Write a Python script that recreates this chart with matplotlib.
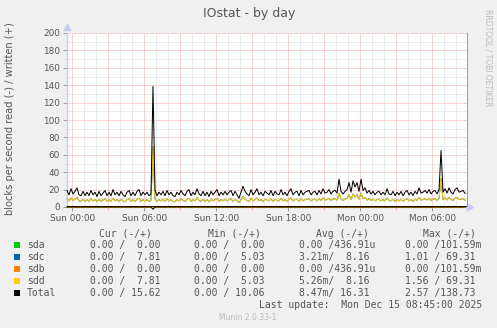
import numpy as np
import matplotlib
matplotlib.use("Agg")
import matplotlib.pyplot as plt
from matplotlib.patches import Rectangle
from matplotlib.ticker import MultipleLocator, FixedLocator

W, H = 497, 328

# ---------------- data ----------------
series_names = ["sda", "sdc", "sdb", "sdd", "Total"]
series_colors = ["#00CC00", "#0066B3", "#FF8000", "#FFCC00", "#000000"]

t_start = -0.44        # hours relative to Sun 00:00
t_step = 1.0 / 6.0     # 10-minute samples

sdd_written = [
    9.5, 7.0, 10.5, 7.5, 9.0, 11.0, 7.0, 6.5, 9.0, 6.5, 8.5, 6.5, 9.5, 7.0, 8.5, 6.0, 9.0, 6.5, 8.0, 9.5,
    6.5, 8.5, 6.5, 10.0, 7.0, 8.5, 6.5, 9.0, 7.0, 6.0, 8.5, 9.5, 6.5, 8.5, 6.5, 9.0, 10.0, 6.5, 8.5, 7.0,
    8.5, 6.5, 7.5, 69.31, 9.5, 6.5, 8.5, 7.0, 9.0, 6.5, 9.5, 7.0, 8.5, 6.5, 6.0, 8.5, 7.0, 9.5, 7.5, 6.5,
    9.0, 10.0, 6.5, 8.5, 7.0, 10.5, 7.5, 6.5, 9.0, 6.5, 8.5, 6.0, 9.0, 7.0, 8.5, 10.0, 6.5, 8.5, 7.0, 9.0,
    7.0, 8.5, 9.5, 6.5, 9.0, 7.0, 5.03, 8.5, 12.0, 9.0, 7.5, 6.5, 10.0, 7.0, 8.5, 10.5, 7.0, 8.5, 6.5, 9.0,
    8.0, 7.0, 9.5, 6.5, 9.0, 7.5, 7.0, 10.0, 7.0, 8.5, 6.5, 9.0, 10.5, 7.0, 8.5, 9.0, 6.5, 9.5, 7.0, 8.5,
    9.0, 9.5, 7.0, 8.5, 9.0, 7.0, 9.5, 7.5, 10.5, 8.0, 8.5, 10.0, 7.5, 9.0, 9.5, 8.0, 16.0, 9.0, 7.5, 9.0,
    10.0, 14.0, 8.5, 15.0, 11.5, 14.0, 9.0, 16.0, 9.5, 11.0, 8.0, 9.5, 7.5, 9.0, 7.0, 8.5, 9.0, 7.0, 8.5, 7.0,
    10.5, 7.5, 7.0, 9.0, 6.5, 8.5, 7.0, 9.0, 6.5, 8.5, 9.5, 7.0, 8.5, 6.5, 9.0, 7.5, 11.0, 8.0, 8.5, 9.5,
    8.0, 10.0, 7.5, 9.0, 9.5, 7.5, 10.0, 32.5, 8.5, 10.5, 8.0, 11.0, 8.5, 7.5, 10.0, 11.0, 8.5, 9.0, 9.5, 7.81,
]
sdc_written = list(sdd_written)
n = len(sdd_written)
sda_written = [0.0] * n
sdb_written = [0.0] * n

spike_index = 43
sdc_read_peak = 1.01
sdd_read_peak = 1.56

x_tick_hours = [0, 6, 12, 18, 24, 30]
x_tick_labels = ["Sun 00:00", "Sun 06:00", "Sun 12:00", "Sun 18:00", "Mon 00:00", "Mon 06:00"]
y_ticks = [0, 20, 40, 60, 80, 100, 120, 140, 160, 180, 200]

legend_rows = [
    ("sda",   "0.00 /  0.00", "0.00 /  0.00", "0.00 /436.91u", "0.00 /101.59m"),
    ("sdc",   "0.00 /  7.81", "0.00 /  5.03", "3.21m/  8.16",  "1.01 / 69.31"),
    ("sdb",   "0.00 /  0.00", "0.00 /  0.00", "0.00 /436.91u", "0.00 /101.59m"),
    ("sdd",   "0.00 /  7.81", "0.00 /  5.03", "5.26m/  8.16",  "1.56 / 69.31"),
    ("Total", "0.00 / 15.62", "0.00 / 10.06", "8.47m/ 16.31",  "2.57 /138.73"),
]
last_update = "Last update:  Mon Dec 15 08:45:00 2025"

# ---------------- derived ----------------
t = t_start + np.arange(n) * t_step
written = {
    "sda": np.array(sda_written),
    "sdc": np.array(sdc_written),
    "sdb": np.array(sdb_written),
    "sdd": np.array(sdd_written),
}
read = {k: np.zeros(n) for k in written}
read["sdc"][spike_index] = sdc_read_peak
read["sdd"][spike_index] = sdd_read_peak
written["Total"] = written["sda"] + written["sdc"] + written["sdb"] + written["sdd"]
read["Total"] = read["sda"] + read["sdc"] + read["sdb"] + read["sdd"]

# ---------------- figure ----------------
fig = plt.figure(figsize=(W / 100, H / 100), dpi=100, facecolor="#F0F0F0")
px = lambda x: x / W
py = lambda y: 1 - y / H

ax_l, ax_r, ax_t, ax_b = 67, 467, 33, 207
ax = fig.add_axes([px(ax_l), py(ax_b), (ax_r - ax_l) / W, (ax_b - ax_t) / H])
ax.set_facecolor("white")
ax.set_xlim(-0.44, 32.89)
ax.set_ylim(0, 200)

txt = "#555555"
lw_px = 0.72

# grid
for h in range(0, 33):
    major = h % 3 == 0
    ax.axvline(h, color="#F4A8A8" if major else "#D8D8D8", lw=lw_px,
               ls=(0, (1, 1)), zorder=1 if not major else 1.5)
for v in range(10, 201, 10):
    major = v % 20 == 0
    ax.axhline(v, color="#F4A8A8" if major else "#D8D8D8", lw=lw_px,
               ls=(0, (1, 1)), zorder=1 if not major else 1.5)

# data lines
for name, col in zip(series_names, series_colors):
    ax.plot(t, -read[name], color=col, lw=lw_px, zorder=3, clip_on=False)
    ax.plot(t, written[name], color=col, lw=lw_px, zorder=3, clip_on=False)
ax.axhline(0, color="black", lw=1.2, zorder=3.5)

# axes styling
ax.spines["top"].set_visible(False)
ax.spines["right"].set_color("#9A9A9A")
ax.spines["right"].set_linewidth(lw_px)
ax.spines["left"].set_color("#C8CCF4")
ax.spines["bottom"].set_color("#C8CCF4")
ax.spines["left"].set_linewidth(1.0)
ax.spines["bottom"].set_linewidth(1.0)

ax.xaxis.set_major_locator(FixedLocator(x_tick_hours))
ax.set_xticklabels(x_tick_labels)
ax.xaxis.set_minor_locator(MultipleLocator(3))
ax.yaxis.set_major_locator(FixedLocator(y_ticks))
ax.set_yticklabels([str(v) for v in y_ticks])
ax.tick_params(axis="both", which="major", length=3, width=0.7, color="#999999",
               labelsize=6.4, labelcolor=txt, pad=2)
ax.tick_params(axis="x", which="minor", length=2, width=0.7, color="#F4A8A8")

# arrows
ax.plot([0], [1.035], marker="^", ms=4, color="#C8CCF4", transform=ax.transAxes, clip_on=False)
ax.plot([1.008], [0], marker=">", ms=4, color="#C8CCF4", transform=ax.transAxes, clip_on=False)

# title and labels
fig.text(px(249), py(13), "IOstat - by day", ha="center", va="center", fontsize=9, color=txt)
fig.text(px(10), py(119), "blocks per second read (-) / written (+)", rotation=90,
         ha="center", va="center", fontsize=7.1, color=txt)
fig.text(px(488), py(58), "RRDTOOL / TOBI OETIKER", rotation=270, ha="center", va="center",
         fontsize=5.5, color="#BBBBBB")

# legend
mono = "DejaVu Sans Mono"
fs = 7.05
hdr_y = 234
fig.text(px(98.7), py(hdr_y), "Cur (-/+)", family=mono, fontsize=fs, color=txt, va="center")
fig.text(px(207.7), py(hdr_y), "Min (-/+)", family=mono, fontsize=fs, color=txt, va="center")
fig.text(px(315.7), py(hdr_y), "Avg (-/+)", family=mono, fontsize=fs, color=txt, va="center")
fig.text(px(423.3), py(hdr_y), "Max (-/+)", family=mono, fontsize=fs, color=txt, va="center")
row_y = [245, 257, 269, 281, 293]
for (name, cur, mn, avg, mx), col, y in zip(legend_rows, series_colors, row_y):
    fig.add_artist(Rectangle((px(14), py(y + 3)), 6 / W, 6 / H, transform=fig.transFigure,
                             facecolor=col, edgecolor="none"))
    fig.text(px(26.7), py(y), name, family=mono, fontsize=fs, color=txt, va="center")
    fig.text(px(90), py(y), cur, family=mono, fontsize=fs, color=txt, va="center")
    fig.text(px(194.3), py(y), mn, family=mono, fontsize=fs, color=txt, va="center")
    fig.text(px(299.3), py(y), avg, family=mono, fontsize=fs, color=txt, va="center")
    fig.text(px(405), py(y), mx, family=mono, fontsize=fs, color=txt, va="center")
fig.text(px(482.5), py(305.5), last_update, family=mono, fontsize=fs, color=txt,
         va="center", ha="right")
fig.text(px(248), py(317), "Munin 2.0.33-1", fontsize=5.5, color="#BBBBBB", ha="center", va="center")

fig.savefig("out.png", dpi=100, facecolor=fig.get_facecolor())
